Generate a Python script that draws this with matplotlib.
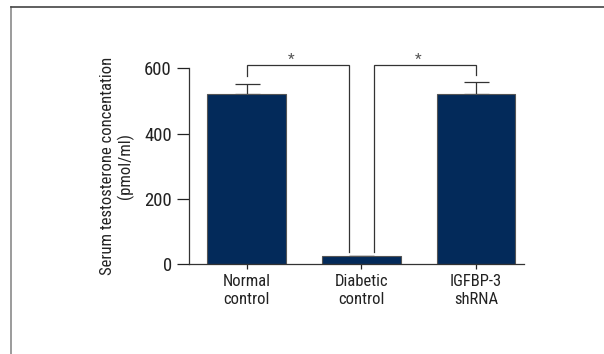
import matplotlib
matplotlib.use("Agg")
import matplotlib.pyplot as plt
from matplotlib.lines import Line2D
from matplotlib import font_manager

# Serum testosterone by group
groups = ["Normal\ncontrol", "Diabetic\ncontrol", "IGFBP-3\nshRNA"]
means = [520, 25, 520]
errors = [32, 0, 38]

# significance brackets: (left x, right x, left leg end, right leg end)
bracket_top = 610
brackets = [(0, 0.89, 576, 38), (1.11, 2, 38, 580)]

names = {f.name for f in font_manager.fontManager.ttflist}
for fam in ["Roboto Condensed", "Liberation Sans Narrow", "DejaVu Sans Condensed", "DejaVu Sans"]:
    if fam in names:
        break
plt.rcParams["font.family"] = fam

bar_color = "#032a5a"
line_color = "#333333"

fig = plt.figure(figsize=(6.04, 3.54), dpi=100)
ax = fig.add_axes([0.3134, 0.2542, 0.868 - 0.3134, 0.807 - 0.2542])

x = list(range(len(groups)))
ax.bar(x, means, width=0.684, color=bar_color, edgecolor="#555555", linewidth=0.8, zorder=2)
ax.errorbar(x, means, yerr=[[0] * len(errors), errors], fmt="none",
            ecolor=line_color, elinewidth=0.9, capsize=9, capthick=0.9, zorder=1)

for x0, x1, y0, y1 in brackets:
    ax.plot([x0, x0, x1, x1], [y0, bracket_top, bracket_top, y1],
            color=line_color, lw=0.9, clip_on=False, solid_joinstyle="miter")
    ax.text((x0 + x1) / 2 - 0.06, bracket_top - 4, "*", ha="center", va="bottom",
            fontsize=11, color="#555555")

ax.set_xlim(-0.5, 2.42)
ax.set_ylim(0, 600)
ax.set_yticks([0, 200, 400, 600])
ax.set_xticks(x)
ax.set_xticklabels(groups, fontsize=12, color="#222222", linespacing=1.25)
ax.tick_params(axis="y", labelsize=13.5, length=9, width=0.9, pad=3.5, colors="#222222")
ax.tick_params(axis="x", length=3.5, width=0.9, pad=3.5, colors="#222222")

for side in ["top", "right"]:
    ax.spines[side].set_visible(False)
for side in ["left", "bottom"]:
    ax.spines[side].set_linewidth(0.9)
    ax.spines[side].set_color(line_color)

ax.set_ylabel("Serum testosterone concentation\n(pmol/ml)", fontsize=12,
              color="#222222", linespacing=1.2, labelpad=7)

# panel frame
W, H = 604, 354
fig.add_artist(Line2D([11 / W, 11 / W], [0, 1 - 7 / H], transform=fig.transFigure,
                      color="#8a8a8a", lw=1.2))
fig.add_artist(Line2D([11 / W, 1], [1 - 7 / H, 1 - 7 / H], transform=fig.transFigure,
                      color="#444444", lw=1.2))

fig.savefig("out.png", dpi=100)
